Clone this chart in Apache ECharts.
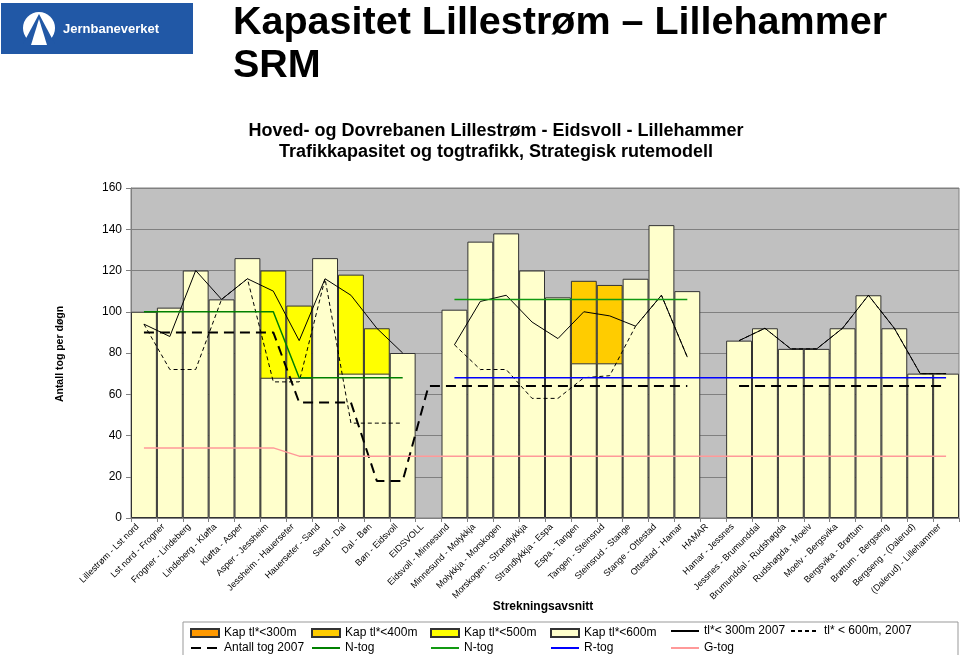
<!DOCTYPE html>
<html><head><meta charset="utf-8">
<script src="https://cdn.jsdelivr.net/npm/echarts@6/dist/echarts.min.js"></script>
<style>html,body{margin:0;padding:0;background:#fff}#c{width:960px;height:655px}</style>
</head><body><div id="c"></div>
<script>
const categories = ['Lillestrøm - Lst nord','Lst nord - Frogner','Frogner - Lindeberg','Lindeberg - Kløfta','Kløfta - Asper','Asper - Jessheim','Jessheim - Hauerseter','Hauerseter - Sand','Sand - Dal','Dal - Bøn','Bøn - Eidsvoll','EIDSVOLL','Eidsvoll - Minnesund','Minnesund - Molykkja','Molykkja - Morskogen','Morskogen - Strandlykkja','Strandlykkja - Espa','Espa - Tangen','Tangen - Steinsrud','Steinsrud - Stange','Stange - Ottestad','Ottestad - Hamar','HAMAR','Hamar - Jessnes','Jessnes - Brumunddal','Brumunddal - Rudshøgda','Rudshøgda - Moelv','Moelv - Bergsvika','Bergsvika - Brøttum','Brøttum - Bergseng','Bergseng - (Dalerud)','(Dalerud) - Lillehammer'];
const N = null;
const kap300 = [N,N,N,N,N,N,N,N,N,N,N,N,N,N,N,N,N,N,N,N,N,N,N,N,N,N,N,N,N,N,N,N];
const kap400 = [N,N,N,N,N,N,N,N,N,N,N,N,N,N,N,N,N,115,113,N,N,N,N,N,N,N,N,N,N,N,N,N];
const kap500 = [N,N,N,N,N,120,103,N,118,92,N,N,N,N,N,N,N,N,N,N,N,N,N,N,N,N,N,N,N,N,N,N];
const kap600 = [100,102,120,106,126,68,68,126,70,70,80,N,101,134,138,120,107,75,75,116,142,110,N,86,92,82,82,92,108,92,70,70];
const tl300_2007 = [94,88,120,106,116,110,86,116,108,92,80,N,84,105,108,95,87,100,98,93,108,78,N,86,92,82,82,92,108,92,70,70];
const tl600_2007 = [94,72,72,106,116,66,66,116,46,46,46,N,84,72,72,58,58,68,69,93,108,78,N,86,92,82,82,92,108,92,70,70];
const antallTog2007 = [90,90,90,90,90,90,56,56,56,18,18,64,64,64,64,64,64,64,64,64,64,64,N,64,64,64,64,64,64,64,64,64];
const nTog1 = [100,100,100,100,100,100,68,68,68,68,68,N,N,N,N,N,N,N,N,N,N,N,N,N,N,N,N,N,N,N,N,N];
const nTog2 = [N,N,N,N,N,N,N,N,N,N,N,N,106,106,106,106,106,106,106,106,106,106,N,N,N,N,N,N,N,N,N,N];
const rTog = [N,N,N,N,N,N,N,N,N,N,N,N,68,68,68,68,68,68,68,68,68,68,68,68,68,68,68,68,68,68,68,68];
const gTog = [34,34,34,34,34,34,30,30,30,30,30,30,30,30,30,30,30,30,30,30,30,30,30,30,30,30,30,30,30,30,30,30];
const yTicks = [0,20,40,60,80,100,120,140,160];

const FONT = 'Liberation Sans, Arial, sans-serif';
const chart = echarts.init(document.getElementById('c'), null, {renderer:'canvas'});

function barSeries(name, data, color){
  return {name, type:'bar', data, barWidth:'100%', barGap:'-100%', barCategoryGap:'0%',
    itemStyle:{color, borderColor:'#333', borderWidth:1}};
}
function lineSeries(name, data, color, width, dash){
  return {name, type:'line', data, symbol:'none', connectNulls:false,
    lineStyle:{color, width, type: dash || 'solid'}, itemStyle:{color}};
}

const legendItems = [
  ['Kap tl*<300m',190,627,'bar'],['Kap tl*<400m',311,627,'bar'],['Kap tl*<500m',430,627,'bar'],['Kap tl*<600m',550,627,'bar'],
  ['tl*< 300m 2007',670,627,'line'],['tl* < 600m, 2007',790,627,'line'],
  ['Antall tog 2007',190,644,'line'],['N-tog',311,644,'line'],['N-tog ',430,644,'line'],['R-tog',550,644,'line'],['G-tog',670,644,'line']
];

const option = {
  animation:false,
  backgroundColor:'#fff',
  textStyle:{fontFamily:FONT},
  grid:{left:131, right:1, top:188, bottom:137, show:true, backgroundColor:'#C0C0C0', borderColor:'#808080', borderWidth:1},
  xAxis:{type:'category', data:categories, boundaryGap:true,
    axisLine:{lineStyle:{color:'#808080'}},
    axisTick:{show:true, length:4, lineStyle:{color:'#808080'}},
    axisLabel:{interval:0, rotate:45, fontSize:9, color:'#000', fontFamily:FONT, margin:1, padding:[0,9,18,0]}},
  yAxis:{type:'value', min:0, max:160, interval:20,
    axisLine:{show:true, lineStyle:{color:'#808080'}},
    axisTick:{show:true, length:5, lineStyle:{color:'#808080'}},
    axisLabel:{fontSize:12, color:'#000', fontFamily:FONT, margin:9,
      formatter:(v)=> yTicks.includes(v) ? String(v) : ''},
    splitLine:{show:true, lineStyle:{color:'#808080', width:1}}},
  legend: legendItems.map(([name,x,y,kind])=>{
    const l = {data:[name], left:x, top: kind==='bar' ? y : y-2, itemWidth:28, itemHeight: kind==='bar'?8:12, padding:0,
      textStyle:{fontSize:12, color:'#000', fontFamily:FONT}, selectedMode:false};
    if (kind==='bar') l.icon = 'rect'; else l.itemStyle = {opacity:0};
    return l;
  }),
  series:[
    barSeries('Kap tl*<300m', kap300, '#FF9900'),
    barSeries('Kap tl*<400m', kap400, '#FFCC00'),
    barSeries('Kap tl*<500m', kap500, '#FFFF00'),
    barSeries('Kap tl*<600m', kap600, '#FFFFCC'),
    lineSeries('tl*< 300m 2007', tl300_2007, '#000', 1),
    lineSeries('tl* < 600m, 2007', tl600_2007, '#000', 1, [4,3]),
    lineSeries('Antall tog 2007', antallTog2007, '#000', 2, [10,6]),
    lineSeries('N-tog', nTog1, '#008000', 1.5),
    lineSeries('N-tog ', nTog2, '#119911', 1.5),
    lineSeries('R-tog', rTog, '#0000FF', 1.5),
    lineSeries('G-tog', gTog, '#FF9999', 1.5)
  ],
  graphic:[
    {type:'rect', shape:{x:183, y:622, width:775, height:40}, style:{fill:'#fff', stroke:'#999', lineWidth:1}, z:-1},
    {type:'rect', shape:{x:1, y:3, width:192, height:51}, style:{fill:'#2158A6'}},
    {type:'circle', shape:{cx:39, cy:28, r:16}, style:{fill:'#fff'}},
    {type:'polygon', shape:{points:[[39,14],[23,44],[55,44]]}, style:{fill:'#2158A6'}},
    {type:'polygon', shape:{points:[[39,19],[31,45],[47,45]]}, style:{fill:'#fff'}},
    {type:'text', style:{text:'Jernbaneverket', x:63, y:29, fill:'#fff', font:'bold 13px '+FONT, verticalAlign:'middle'}},
    {type:'text', style:{text:'Kapasitet Lillestrøm – Lillehammer', x:233, y:23, fill:'#000', font:'bold 39.5px '+FONT, verticalAlign:'middle'}},
    {type:'text', style:{text:'SRM', x:233, y:66, fill:'#000', font:'bold 39.5px '+FONT, verticalAlign:'middle'}},
    {type:'text', style:{text:'Hoved- og Dovrebanen Lillestrøm - Eidsvoll - Lillehammer', x:496, y:131, fill:'#000', font:'bold 18px '+FONT, align:'center', verticalAlign:'middle'}},
    {type:'text', style:{text:'Trafikkapasitet og togtrafikk, Strategisk rutemodell', x:496, y:152, fill:'#000', font:'bold 18px '+FONT, align:'center', verticalAlign:'middle'}},
    {type:'text', rotation:Math.PI/2, x:60, y:354, style:{text:'Antall tog per døgn', x:0, y:0, fill:'#000', font:'bold 10.5px '+FONT, align:'center', verticalAlign:'middle'}},
    {type:'text', style:{text:'Strekningsavsnitt', x:543, y:607, fill:'#000', font:'bold 12px '+FONT, align:'center', verticalAlign:'middle'}}
  ]
};
chart.setOption(option);
</script>
</body></html>
